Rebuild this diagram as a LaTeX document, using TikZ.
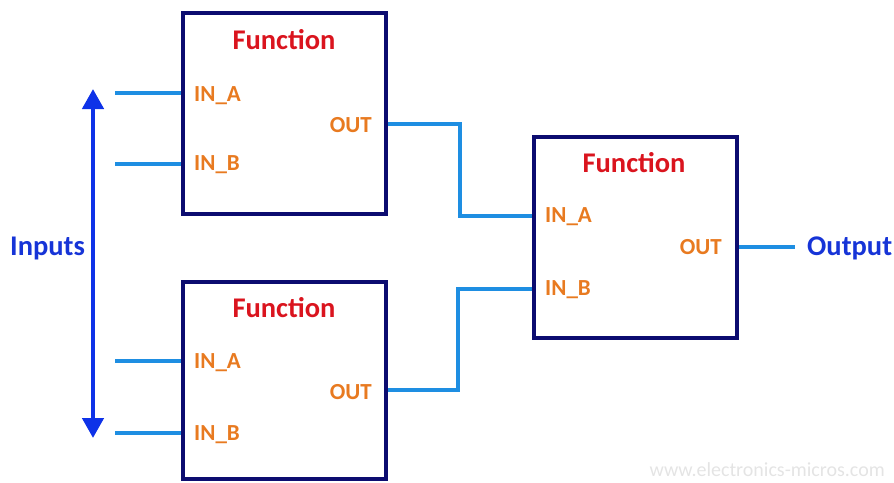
\documentclass[tikz,border=0pt]{standalone}
\usepackage{fontspec}
\setmainfont{Carlito}
\usetikzlibrary{arrows.meta,calc}
\definecolor{navy}{RGB}{12,12,112}
\definecolor{fred}{RGB}{218,20,30}
\definecolor{porange}{RGB}{232,122,32}
\definecolor{wire}{RGB}{30,142,226}
\definecolor{tblue}{RGB}{22,52,215}
\definecolor{ablue}{RGB}{14,50,232}
\definecolor{wm}{RGB}{228,228,228}
\tikzset{
  fbox/.style={draw=navy, line width=4.5pt, minimum width=203pt, inner sep=0pt},
  ftitle/.style={text=fred, font=\fontsize{28.5}{30}\selectfont\bfseries, inner sep=0pt},
  port/.style={text=porange, font=\fontsize{23}{25}\selectfont\bfseries, inner sep=0pt},
  big/.style={text=tblue, font=\fontsize{28.5}{30}\selectfont\bfseries, inner sep=0pt},
  wire/.style={draw=wire, line width=3.6pt},
}
\begin{document}
\begin{tikzpicture}[x=1pt,y=-1pt]
\useasboundingbox (0,0) rectangle (894,482);
% boxes
\node[fbox, minimum height=201pt] (b1) at (284.5,113.5) {};
\node[fbox, minimum height=197pt] (b2) at (284.5,380.5) {};
\node[fbox, minimum height=201pt] (b3) at (635.5,237.5) {};
% titles
\node[ftitle] (t1) at (284,40) {Function};
\node[ftitle] (t2) at (284,308) {Function};
\node[ftitle] (t3) at (634,163) {Function};
% ports
\node[port, anchor=west] (p1a) at (194,96) {IN\_A};
\node[port, anchor=west] (p1b) at (194,165) {IN\_B};
\node[port, anchor=east] (p1o) at (372,125) {OUT};
\node[port, anchor=west] (p2a) at (194,363) {IN\_A};
\node[port, anchor=west] (p2b) at (194,435) {IN\_B};
\node[port, anchor=east] (p2o) at (372,392) {OUT};
\node[port, anchor=west] (p3a) at (545,217) {IN\_A};
\node[port, anchor=west] (p3b) at (545,290) {IN\_B};
\node[port, anchor=east] (p3o) at (722,247) {OUT};
% input wires
\coordinate (i1a) at (115,93);
\coordinate (i1b) at (115,164);
\coordinate (i2a) at (115,361);
\coordinate (i2b) at (115,433);
\draw[wire] (i1a) -- (i1a -| b1.west);
\draw[wire] (i1b) -- (i1b -| b1.west);
\draw[wire] (i2a) -- (i2a -| b2.west);
\draw[wire] (i2b) -- (i2b -| b2.west);
% inter-connections
\coordinate (o1) at (b1.east |- 0,124);
\coordinate (o2) at (b2.east |- 0,390);
\coordinate (in3a) at (b3.west |- 0,216);
\coordinate (in3b) at (b3.west |- 0,289);
\draw[wire] (o1) -- (460,124) -- (460,216) -- (in3a);
\draw[wire] (o2) -- (458,390) -- (458,289) -- (in3b);
% output
\node[big, anchor=west] (out) at (807,248) {Output};
\coordinate (o3) at (b3.east |- 0,247);
\draw[wire] (o3) -- (795,247);
% inputs arrow
\node[big, anchor=west] (inp) at (10,248) {Inputs};
\coordinate (at) at (93,89);
\coordinate (ab) at (93,438);
\draw[draw=ablue, line width=4.5pt, {Triangle[width=21pt,length=20pt]}-{Triangle[width=21pt,length=20pt]}, color=ablue] (at) -- (ab);
% watermark
\node[text=wm, font=\fontsize{20}{22}\selectfont, anchor=east, inner sep=0pt] (wmk) at (885,470) {www.electronics-micros.com};
\end{tikzpicture}
\end{document}
